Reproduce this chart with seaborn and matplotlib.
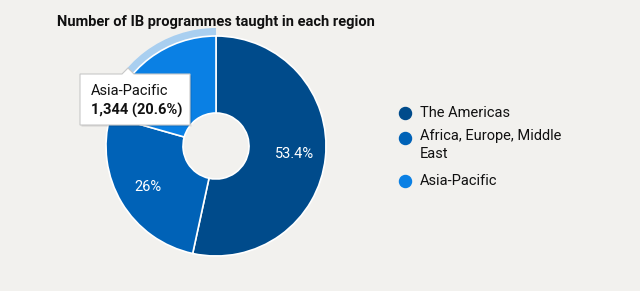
import matplotlib
matplotlib.use("Agg")
import matplotlib.pyplot as plt
import seaborn as sns
from matplotlib.patches import Polygon

# ---- data ----
regions = ["The Americas", "Africa, Europe, Middle\nEast", "Asia-Pacific"]
shares = [53.4, 26.0, 20.6]
share_labels = ["53.4%", "26%", ""]  # Asia-Pacific label hidden under the tooltip
tooltip_region = "Asia-Pacific"
tooltip_value = "1,344 (20.6%)"
title = "Number of IB programmes taught in each region"

# ---- style ----
sns.set_theme(style="white")
plt.rcParams["font.family"] = ["Roboto", "DejaVu Sans"]
bg = "#f2f1ee"
palette = sns.color_palette(["#004b8b", "#0062b7", "#0a80e4"])
halo = "#a9cff0"

fig = plt.figure(figsize=(6.4, 2.91), dpi=100, facecolor=bg)
ax = fig.add_axes([0, 0, 1, 1])
ax.set_facecolor(bg)
ax.set_xlim(0, 640)
ax.set_ylim(0, 291)
ax.axis("off")

cx, cy, R, r_in = 216, 145, 110, 33

# hover halo around Asia-Pacific
ax.pie(shares, colors=["none", "none", halo], startangle=90, counterclock=False,
       radius=R + 8, center=(cx, cy), wedgeprops=dict(width=9, linewidth=0))

wedges, texts, autotexts = ax.pie(
    shares, colors=palette, startangle=90, counterclock=False,
    radius=R, center=(cx, cy),
    autopct=lambda p: "", pctdistance=0.72,
    wedgeprops=dict(width=R - r_in, edgecolor="white", linewidth=1.2))
for t, lab in zip(autotexts, share_labels):
    t.set_text(lab)
    t.set_color("white")
    t.set_fontsize(10.5)
ax.set_xlim(0, 640)
ax.set_ylim(0, 291)

# title
ax.text(57, 291 - 22, title, fontsize=10.5, fontweight="bold", color="#111111",
        va="center", ha="left")

# tooltip
bx0, bx1, by0, by1 = 80, 190, 291 - 125, 291 - 74
shadow = Polygon([(bx0 + 1.5, by0 - 1.5), (bx1 + 1.5, by0 - 1.5), (bx1 + 1.5, by1 - 1.5),
                  (134 + 1.5, by1 - 1.5), (128 + 1.5, by1 + 6 - 1.5), (122 + 1.5, by1 - 1.5),
                  (bx0 + 1.5, by1 - 1.5)], closed=True, facecolor="#000000", alpha=0.12,
                 edgecolor="none", zorder=5)
ax.add_patch(shadow)
box = Polygon([(bx0, by0), (bx1, by0), (bx1, by1), (134, by1), (128, by1 + 6), (122, by1),
               (bx0, by1)], closed=True, facecolor="white", edgecolor="#c8c8c8",
              linewidth=0.8, zorder=6)
ax.add_patch(box)
ax.text(91, 291 - 91, tooltip_region, fontsize=10.5, color="#111111", va="center",
        ha="left", zorder=7)
ax.text(91, 291 - 110, tooltip_value, fontsize=10.5, fontweight="bold", color="#111111",
        va="center", ha="left", zorder=7)

# legend (manual)
leg_y = [113, 138, 181]
for col, lab, y in zip(palette, regions, leg_y):
    ax.scatter([405], [291 - y], s=75, color=col, zorder=4)
    if "\n" in lab:
        ax.text(420, 291 - y + 9, lab, fontsize=10.5, color="#111111", va="top",
                ha="left", linespacing=1.4)
    else:
        ax.text(420, 291 - y, lab, fontsize=10.5, color="#111111", va="center", ha="left")

fig.savefig("out.png", dpi=100, facecolor=bg)
